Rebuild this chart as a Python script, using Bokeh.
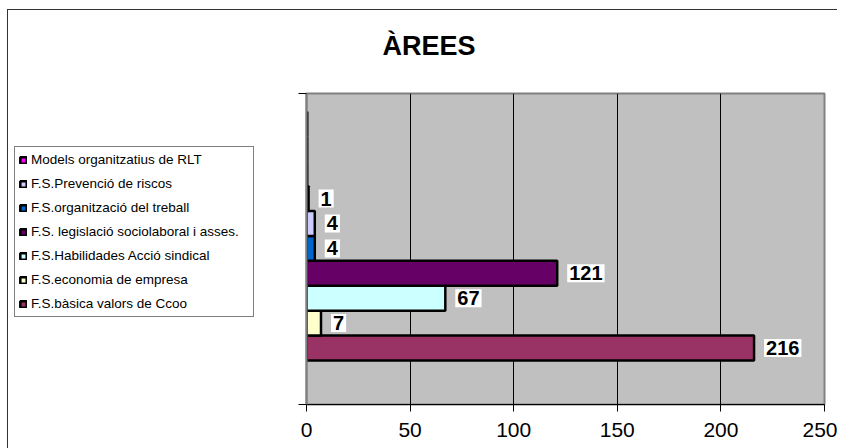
from bokeh.plotting import figure
from bokeh.layouts import row
from bokeh.models import (Range1d, FixedTicker, Legend, LegendItem, Title)
from bokeh.embed import file_html
from bokeh.resources import INLINE
from bokeh.core.properties import value

# ---- data (series listed from the bottom bar upwards) ----
chart_title = "ÀREES"
series_names = [
    "F.S.bàsica valors de Ccoo",
    "F.S.economia de empresa",
    "F.S.Habilidades Acció sindical",
    "F.S. legislació sociolaboral i asses.",
    "F.S.organització del treball",
    "F.S.Prevenció de riscos",
    "Models organitzatius de RLT",
]
series_values = [216, 7, 67, 121, 4, 4, 1]
series_colors = ["#993366", "#FFFFCC", "#CCFFFF", "#660066", "#0066CC", "#CCCCFF", "#FF00FF"]
# three further series without legend entries, all zero
unlabeled_values = [0, 0, 0]
x_ticks = [0, 50, 100, 150, 200, 250]

FONT = "Liberation Sans"
LINE = "#333333"

y_start, y_end = -1.77, 10.72
n = len(series_values)
H = 448

# ---------- main chart ----------
p = figure(width=539, height=H, output_backend="svg", toolbar_location=None,
           x_range=Range1d(0, 250), y_range=Range1d(y_start, y_end),
           min_border_left=8, min_border_right=13, min_border_top=93, min_border_bottom=H - 404)
p.background_fill_color = "#C0C0C0"
p.border_fill_alpha = 0
p.outline_line_color = "#808080"
p.outline_line_width = 2
p.styles = {"background": f"linear-gradient({LINE},{LINE}) 0px 9px / 100% 1px no-repeat, white"}

for i, (name, v, c) in enumerate(zip(series_names, series_values, series_colors)):
    p.quad(left=[0], right=[v], bottom=[i], top=[i + 1], fill_color=c,
           line_color="black", line_width=2.5)

extra_slots = list(range(n, n + len(unlabeled_values)))
p.segment(x0=unlabeled_values, x1=unlabeled_values, y0=extra_slots,
          y1=[s + 1 for s in extra_slots], line_color="black", line_width=4)

p.text(x=series_values, y=[i + 0.5 for i in range(n)], text=[str(v) for v in series_values],
       x_offset=10, text_align="left", text_baseline="middle",
       text_font=value(FONT), text_font_style="bold", text_font_size="20px", text_color="black",
       background_fill_color="white", padding=2)

p.xaxis.ticker = FixedTicker(ticks=x_ticks)
p.xaxis.major_label_text_font = FONT
p.xaxis.major_label_text_font_size = "21px"
p.xaxis.major_label_text_color = "black"
p.xaxis.axis_line_color = "black"
p.xaxis.major_tick_line_color = "black"
p.xaxis.major_tick_out = 7
p.xaxis.major_tick_in = 0
p.xaxis.minor_tick_line_color = None
p.xaxis.major_label_standoff = 11

p.yaxis.ticker = FixedTicker(ticks=[y_start, y_end])
p.yaxis.major_label_overrides = {y_start: "", y_end: ""}
p.yaxis.major_label_standoff = 0
p.yaxis.axis_line_color = "#808080"
p.yaxis.axis_line_width = 2
p.yaxis.major_tick_line_color = "black"
p.yaxis.major_tick_out = 8
p.yaxis.major_tick_in = 0
p.yaxis.minor_tick_line_color = None

p.xgrid.ticker = FixedTicker(ticks=x_ticks)
p.xgrid.grid_line_color = "black"
p.ygrid.visible = False

p.title = Title(text=chart_title, align="left", offset=76, standoff=61, vertical_align="top",
                text_font=FONT, text_font_style="bold", text_font_size="27px", text_color="black")

# ---------- legend panel (left part of the chart area) ----------
lp = figure(width=298, height=H, output_backend="svg", toolbar_location=None,
            x_range=Range1d(-10, -5), y_range=Range1d(-10, -5),
            x_axis_type=None, y_axis_type=None,
            min_border_left=0, min_border_right=0, min_border_top=0, min_border_bottom=0)
lp.background_fill_alpha = 0
lp.border_fill_alpha = 0
lp.outline_line_color = None
lp.grid.visible = False
lp.styles = {"background": f"linear-gradient({LINE},{LINE}) 7px 9px / 1px 100% no-repeat, "
                           f"linear-gradient({LINE},{LINE}) 7px 9px / 100% 1px no-repeat, white"}

items = []
for i, (name, v, c) in enumerate(zip(series_names, series_values, series_colors)):
    r = lp.quad(left=[0], right=[v], bottom=[i], top=[i + 1], fill_color=c,
                line_color="black", line_width=2.5)
    items.append(LegendItem(label=name, renderers=[r]))

legend = Legend(items=list(reversed(items)), location=(14, 87),
                label_text_font=FONT, label_text_font_size="13.5px", label_text_color="black",
                border_line_color="black", border_line_width=1, background_fill_color="white",
                background_fill_alpha=1, glyph_width=8, glyph_height=8, label_standoff=4,
                padding=4, spacing=7, label_height=17, label_width=218, margin=0)
lp.add_layout(legend)

layout = row(lp, p)
open("out.html", "w").write(file_html(layout, INLINE))
